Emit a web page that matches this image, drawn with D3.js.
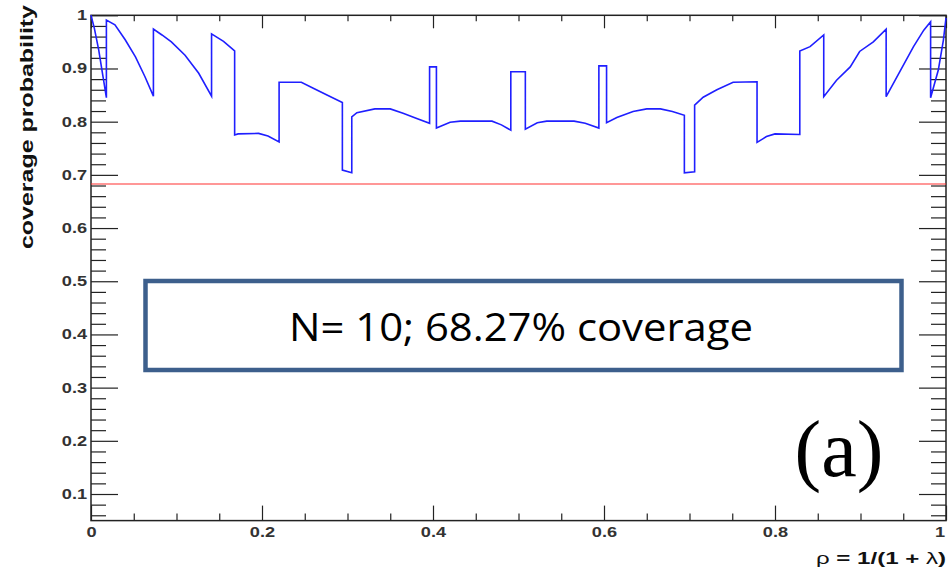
<!DOCTYPE html>
<html>
<head>
<meta charset="utf-8">
<script src="https://cdn.jsdelivr.net/npm/d3@7"></script>
<style>
  html, body { margin: 0; padding: 0; background: #fff; }
  svg { display: block; }
</style>
</head>
<body>
<svg id="chart" width="949" height="574"></svg>
<script>
// ---------------- data ----------------
const rho = [
  0.000, 0.004, 0.009, 0.014, 0.018, 0.018, 0.028, 0.040, 0.052, 0.063,
  0.073, 0.073, 0.083, 0.094, 0.110, 0.126, 0.141, 0.141, 0.155, 0.168,
  0.168, 0.172, 0.196, 0.207, 0.220, 0.220, 0.246, 0.260, 0.276, 0.294,
  0.294, 0.305, 0.305, 0.311, 0.332, 0.350, 0.365, 0.381, 0.396, 0.396,
  0.404, 0.404, 0.420, 0.432, 0.469, 0.480, 0.491, 0.491, 0.508, 0.508,
  0.522, 0.533, 0.565, 0.578, 0.594, 0.594, 0.603, 0.603, 0.615, 0.634,
  0.650, 0.666, 0.680, 0.694, 0.694, 0.706, 0.706, 0.716, 0.732, 0.751,
  0.779, 0.779, 0.790, 0.800, 0.829, 0.829, 0.841, 0.857, 0.857, 0.872,
  0.888, 0.899, 0.915, 0.930, 0.930, 0.946, 0.962, 0.974, 0.982, 0.982,
  0.991, 0.997, 1.000
];
const coverage = [
  1.000, 0.975, 0.935, 0.885, 0.845, 0.991, 0.982, 0.954, 0.922, 0.885,
  0.848, 0.974, 0.963, 0.950, 0.925, 0.891, 0.848, 0.965, 0.951, 0.933,
  0.775, 0.777, 0.778, 0.773, 0.762, 0.874, 0.874, 0.863, 0.850, 0.836,
  0.709, 0.704, 0.809, 0.817, 0.824, 0.824, 0.816, 0.806, 0.797, 0.903,
  0.903, 0.788, 0.799, 0.801, 0.801, 0.794, 0.784, 0.894, 0.894, 0.786,
  0.798, 0.801, 0.801, 0.797, 0.788, 0.905, 0.905, 0.798, 0.808, 0.819,
  0.824, 0.824, 0.819, 0.812, 0.704, 0.706, 0.831, 0.846, 0.860, 0.874,
  0.875, 0.761, 0.772, 0.777, 0.776, 0.933, 0.941, 0.963, 0.847, 0.878,
  0.903, 0.932, 0.950, 0.974, 0.847, 0.894, 0.941, 0.972, 0.988, 0.845,
  0.897, 0.954, 0.995
];
const nominal = 0.6827;
const xTickValues = [0, 0.2, 0.4, 0.6, 0.8, 1];
const xTickLabels = ["0", "0.2", "0.4", "0.6", "0.8", "1"];
const yTickValues = [0.1, 0.2, 0.3, 0.4, 0.5, 0.6, 0.7, 0.8, 0.9, 1];
const yTickLabels = ["0.1", "0.2", "0.3", "0.4", "0.5", "0.6", "0.7", "0.8", "0.9", "1"];
const boxText = "N= 10; 68.27% coverage";
const panelLabel = "(a)";

// ---------------- layout ----------------
const svg = d3.select("#chart");
const X0 = 91, X1 = 946, Y0 = 520.6, Y1 = 15.3;
const x = d3.scaleLinear().domain([0, 1]).range([X0, X1]);
const y = d3.scaleLinear().domain([0.05, 1]).range([Y0, Y1]);

const xMinor = d3.range(1, 20).map(i => i / 20).filter(v => Math.abs(v * 5 - Math.round(v * 5)) > 1e-6);
const yMinor = d3.range(3, 51).map(i => i / 50).filter(v => Math.abs(v * 10 - Math.round(v * 10)) > 1e-6);

const tickFont = "bold 14px 'Liberation Sans', Arial, sans-serif";

function styleAxis(g) {
  g.select(".domain").remove();
  g.selectAll("line").attr("stroke", "#222").attr("stroke-width", 1.2);
  g.selectAll("text").style("font", tickFont).attr("fill", "#333")
    .attr("transform", "scale(1.3,1)");
}

// left axis
svg.append("g").attr("transform", `translate(${X0},0)`)
  .call(d3.axisLeft(y).tickValues(yMinor).tickSize(-15).tickFormat(""))
  .call(styleAxis);
svg.append("g").attr("transform", `translate(${X0},0)`)
  .call(d3.axisLeft(y).tickValues(yTickValues).tickSize(-27).tickPadding(3)
    .tickFormat((d, i) => yTickLabels[i]))
  .call(styleAxis);
// right axis
svg.append("g").attr("transform", `translate(${X1},0)`)
  .call(d3.axisRight(y).tickValues(yMinor).tickSize(-15).tickFormat(""))
  .call(styleAxis);
svg.append("g").attr("transform", `translate(${X1},0)`)
  .call(d3.axisRight(y).tickValues(yTickValues).tickSize(-27).tickFormat(""))
  .call(styleAxis);
// bottom axis
svg.append("g").attr("transform", `translate(0,${Y0})`)
  .call(d3.axisBottom(x).tickValues(xMinor).tickSize(-7).tickFormat(""))
  .call(styleAxis);
const xAxisG = svg.append("g").attr("transform", `translate(0,${Y0})`)
  .call(d3.axisBottom(x).tickValues(xTickValues).tickSize(-15).tickPadding(6)
    .tickFormat((d, i) => xTickLabels[i]))
  .call(styleAxis);
// keep the last label inside the picture
xAxisG.selectAll(".tick text").filter(d => d === 1).attr("text-anchor", "end").attr("dx", -1);
// top axis
svg.append("g").attr("transform", `translate(0,${Y1})`)
  .call(d3.axisTop(x).tickValues(xMinor).tickSize(-6).tickFormat(""))
  .call(styleAxis);
svg.append("g").attr("transform", `translate(0,${Y1})`)
  .call(d3.axisTop(x).tickValues(xTickValues).tickSize(-13).tickFormat(""))
  .call(styleAxis);

// frame
svg.append("rect")
  .attr("x", X0).attr("y", Y1).attr("width", X1 - X0).attr("height", Y0 - Y1)
  .attr("fill", "none").attr("stroke", "#222").attr("stroke-width", 1.5);

// nominal line
svg.append("line")
  .attr("x1", X0).attr("x2", X1).attr("y1", y(nominal)).attr("y2", y(nominal))
  .attr("stroke", "#ff3030").attr("stroke-width", 1.1);

// coverage curve
const pts = rho.map((r, i) => [r, coverage[i]]);
svg.append("path")
  .datum(pts)
  .attr("fill", "none")
  .attr("stroke", "#1f1fff")
  .attr("stroke-width", 1.6)
  .attr("stroke-linejoin", "miter")
  .attr("d", d3.line().x(d => x(d[0])).y(d => y(d[1])));

// axis titles
svg.append("text")
  .attr("transform", "translate(33,5) rotate(-90)")
  .attr("text-anchor", "end")
  .attr("textLength", 244).attr("lengthAdjust", "spacingAndGlyphs")
  .style("font", "bold 18px 'Liberation Sans', Arial, sans-serif")
  .attr("fill", "#111")
  .text("coverage probability");

const xt = svg.append("text")
  .attr("x", 816).attr("y", 564)
  .attr("textLength", 130).attr("lengthAdjust", "spacingAndGlyphs")
  .style("font", "bold 17px 'Liberation Sans', Arial, sans-serif")
  .attr("fill", "#111");
xt.append("tspan").style("font-weight", "normal").text("ρ");
xt.append("tspan").text(" = 1/(1 + ");
xt.append("tspan").style("font-weight", "normal").text("λ");
xt.append("tspan").text(")");

// annotation box
svg.append("rect")
  .attr("x", 145.5).attr("y", 281).attr("width", 756).attr("height", 89)
  .attr("fill", "#fff").attr("stroke", "#3d5f8c").attr("stroke-width", 4.5);
svg.append("text")
  .attr("x", 289).attr("y", 341)
  .attr("textLength", 464).attr("lengthAdjust", "spacingAndGlyphs")
  .style("font", "38px 'Open Sans', 'Noto Sans', sans-serif")
  .attr("fill", "#000")
  .text(boxText);

// panel label
svg.append("text")
  .attr("x", 839).attr("y", 476)
  .attr("text-anchor", "middle")
  .style("font", "80px 'Liberation Serif', serif")
  .attr("fill", "#000")
  .text(panelLabel);
</script>
</body>
</html>
